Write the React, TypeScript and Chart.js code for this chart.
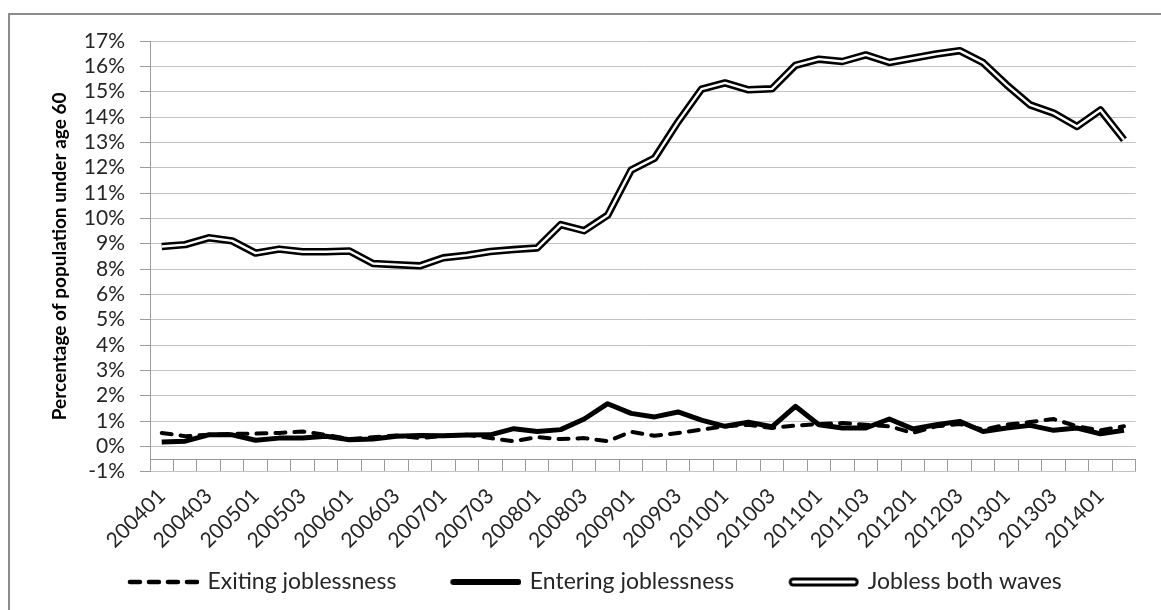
import React, { useEffect, useRef } from 'react';
import { Chart, registerables } from 'chart.js';

Chart.register(...registerables);

// ---------- data ----------
const categories = [
  '200401', '200402', '200403', '200404',
  '200501', '200502', '200503', '200504',
  '200601', '200602', '200603', '200604',
  '200701', '200702', '200703', '200704',
  '200801', '200802', '200803', '200804',
  '200901', '200902', '200903', '200904',
  '201001', '201002', '201003', '201004',
  '201101', '201102', '201103', '201104',
  '201201', '201202', '201203', '201204',
  '201301', '201302', '201303', '201304',
  '201401', '201402',
];

const seriesNames = ['Exiting joblessness', 'Entering joblessness', 'Jobless both waves'];

const exiting = [
  0.57, 0.43, 0.49, 0.53, 0.54, 0.57, 0.63, 0.49, 0.31, 0.39,
  0.46, 0.35, 0.45, 0.49, 0.35, 0.22, 0.39, 0.31, 0.35, 0.22,
  0.62, 0.45, 0.57, 0.71, 0.85, 0.92, 0.78, 0.88, 0.95, 0.99,
  0.92, 0.85, 0.57, 0.85, 0.95, 0.71, 0.92, 1.03, 1.16, 0.85,
  0.68, 0.85,
];

const entering = [
  0.18, 0.22, 0.49, 0.49, 0.26, 0.35, 0.35, 0.43, 0.28, 0.31,
  0.43, 0.46, 0.45, 0.48, 0.49, 0.75, 0.63, 0.71, 1.16, 1.81,
  1.40, 1.25, 1.46, 1.11, 0.85, 1.03, 0.83, 1.70, 0.92, 0.78,
  0.78, 1.16, 0.74, 0.92, 1.06, 0.63, 0.78, 0.89, 0.68, 0.78,
  0.53, 0.68,
];

const joblessBoth = [
  8.48, 8.56, 8.85, 8.72, 8.20, 8.37, 8.26, 8.26, 8.29, 7.76,
  7.71, 7.66, 8.00, 8.11, 8.27, 8.35, 8.42, 9.41, 9.15, 9.81,
  11.72, 12.23, 13.77, 15.16, 15.42, 15.13, 15.17, 16.17, 16.43, 16.33,
  16.61, 16.29, 16.47, 16.65, 16.79, 16.28, 15.34, 14.49, 14.14, 13.57,
  14.27, 13.01,
];

// value axis: gridline spacing (percent) and range in steps
const yStep = 1.075;
const yMinSteps = -1;
const yMaxSteps = 16;
const axisCross = -0.5 * yStep;

const yTitle = 'Percentage of population under age 60';

// ---------- styles ----------
const FONT = "Lato, 'Open Sans', sans-serif";
const TEXT = '#262626';
const GRID = '#c3c3c3';
const AXIS = '#9a9a9a';
const LEGEND_SIZE = 23;

const SAMPLE_MARGIN = 44;
const SAMPLE_LEN = 68;

function makeSample(kind: 'dash' | 'solid' | 'double'): HTMLCanvasElement {
  const c = document.createElement('canvas');
  const w = SAMPLE_MARGIN + SAMPLE_LEN + 6;
  const h = 14;
  c.width = w;
  c.height = h;
  const ctx = c.getContext('2d')!;
  const y = h / 2;
  const x0 = SAMPLE_MARGIN + 3;
  const x1 = w;
  ctx.strokeStyle = '#000';
  if (kind === 'dash') {
    ctx.lineWidth = 4.5;
    ctx.lineCap = 'round';
    ctx.setLineDash([10, 9]);
    ctx.beginPath();
    ctx.moveTo(x0 + 2, y);
    ctx.lineTo(x1 - 2, y);
    ctx.stroke();
  } else if (kind === 'solid') {
    ctx.lineWidth = 6;
    ctx.lineCap = 'round';
    ctx.beginPath();
    ctx.moveTo(x0 + 3, y);
    ctx.lineTo(x1 - 3, y);
    ctx.stroke();
  } else {
    ctx.lineCap = 'round';
    ctx.lineWidth = 9;
    ctx.beginPath();
    ctx.moveTo(x0 + 5, y);
    ctx.lineTo(x1 - 5, y);
    ctx.stroke();
    ctx.strokeStyle = '#fff';
    ctx.lineWidth = 3;
    ctx.beginPath();
    ctx.moveTo(x0 + 5, y);
    ctx.lineTo(x1 - 5, y);
    ctx.stroke();
  }
  return c;
}

export default function App() {
  const ref = useRef<HTMLCanvasElement | null>(null);

  useEffect(() => {
    if (!ref.current) return;
    const samples = [makeSample('dash'), makeSample('solid'), makeSample('double')];
    const line = { pointRadius: 0, pointHoverRadius: 0, fill: false, tension: 0, borderJoinStyle: 'round' as const };
    const chart = new Chart(ref.current, {
      type: 'line',
      data: {
        labels: categories,
        datasets: [
          { ...line, label: seriesNames[2], data: joblessBoth, borderColor: '#ffffff', borderWidth: 2.4, order: 0 },
          { ...line, label: seriesNames[2] + ' outline', data: joblessBoth, borderColor: '#000000', borderWidth: 7.5, order: 1 },
          { ...line, label: seriesNames[1], data: entering, borderColor: '#000000', borderWidth: 5, order: 2 },
          {
            ...line, label: seriesNames[0], data: exiting, borderColor: '#000000', borderWidth: 4,
            borderDash: [10, 9], borderCapStyle: 'round', order: 3,
          },
        ],
      },
      options: {
        animation: false,
        responsive: false,
        events: [],
        layout: { padding: { left: 10, right: 25.3, top: 41, bottom: 6.5 } },
        plugins: {
          tooltip: { enabled: false },
          title: { display: false },
          legend: {
            display: true,
            position: 'bottom',
            labels: {
              usePointStyle: true,
              pointStyleWidth: SAMPLE_MARGIN + SAMPLE_LEN,
              padding: 10,
              color: TEXT,
              font: { family: FONT, size: LEGEND_SIZE },
              generateLabels: () =>
                seriesNames.map((text, i) => ({
                  text,
                  pointStyle: samples[i],
                  fillStyle: 'rgba(0,0,0,0)',
                  strokeStyle: 'rgba(0,0,0,0)',
                  lineWidth: 0,
                  hidden: false,
                  fontColor: TEXT,
                  datasetIndex: i,
                })),
            },
          },
        },
        scales: {
          // category axis with the labels, at the bottom of the plot
          x: {
            type: 'category',
            position: 'bottom',
            offset: true,
            grid: { display: false, drawTicks: false },
            border: { display: false },
            ticks: {
              autoSkip: false,
              maxRotation: 45,
              minRotation: 45,
              padding: 12,
              color: TEXT,
              font: { family: FONT, size: 21 },
              callback: (_v: any, i: number) => (i % 2 === 0 ? categories[i] : ''),
            },
            afterFit: (s: any) => {
              s.height = 88.8;
            },
          },
          // axis line + tick marks where the category axis crosses the value axis
          xCross: {
            type: 'category',
            axis: 'x',
            position: { y: axisCross },
            offset: true,
            grid: {
              display: true,
              drawOnChartArea: false,
              drawTicks: true,
              tickLength: 12,
              offset: true,
              color: AXIS,
              lineWidth: 1,
            },
            border: { display: true, color: AXIS, width: 1 },
            ticks: { display: false, autoSkip: false },
          } as any,
          y: {
            type: 'linear',
            min: yMinSteps * yStep,
            max: yMaxSteps * yStep,
            ticks: {
              stepSize: yStep,
              autoSkip: false,
              padding: 15,
              color: TEXT,
              font: { family: FONT, size: 21 },
              callback: (v: any) => `${Math.round(Number(v))}%`,
            },
            grid: { color: GRID, tickColor: AXIS, tickLength: 10, lineWidth: 1 },
            border: { display: true, color: AXIS, width: 1 },
            title: {
              display: true,
              text: yTitle,
              color: '#000',
              font: { family: FONT, size: 19, weight: 'bold' },
              padding: { top: 38, bottom: 0 },
            },
            afterFit: (s: any) => {
              s.width = 140;
            },
          },
        },
      },
    });
    return () => chart.destroy();
  }, []);

  return (
    <div style={{ position: 'absolute', left: 0, top: 0, width: 1161, height: 610, overflow: 'hidden', background: '#fff' }}>
      <div
        style={{
          position: 'absolute', left: 8, top: 13, width: 1300, height: 800,
          borderLeft: '2px solid #8c8c8c', borderTop: '2px solid #8c8c8c',
        }}
      />
      <canvas ref={ref} width={1161} height={610} style={{ position: 'absolute', left: 0, top: 0, width: 1161, height: 610 }} />
    </div>
  );
}
